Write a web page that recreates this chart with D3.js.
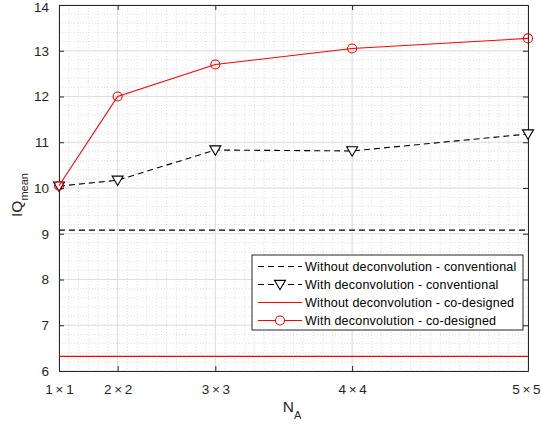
<!DOCTYPE html>
<html>
<head>
<meta charset="utf-8">
<script src="https://cdn.jsdelivr.net/npm/d3@7"></script>
<style>
  body { margin: 0; background: #fff; }
  svg { display: block; font-family: "Liberation Sans", Arial, sans-serif; }
</style>
</head>
<body>
<div id="chart"></div>
<script>
// array sizes, placed on the axis by number of elements (N^2)
var sizes = [1, 2, 3, 4, 5];
var tickLabels = ["1\u2009\u00d7\u20091", "2\u2009\u00d7\u20092", "3\u2009\u00d7\u20093", "4\u2009\u00d7\u20094", "5\u2009\u00d7\u20095"];
var deconvConventional = [10.04, 10.17, 10.83, 10.81, 11.18];
var deconvCodesigned = [10.05, 12.0, 12.7, 13.05, 13.27];
var noDeconvConventional = 9.08;
var noDeconvCodesigned = 6.32;
var yTicks = [6, 7, 8, 9, 10, 11, 12, 13, 14];

var width = 541, height = 427;
var margin = { top: 5, right: 13, bottom: 56, left: 59 };
var w = width - margin.left - margin.right;
var h = height - margin.top - margin.bottom;

var svg = d3.select("#chart").append("svg")
    .attr("width", width)
    .attr("height", height);
var g = svg.append("g")
    .attr("transform", "translate(" + margin.left + "," + margin.top + ")");

var x = d3.scaleLinear().domain([1, 25]).range([0, w]);
var y = d3.scaleLinear().domain([6, 14]).range([h, 0]);

var xMajor = sizes.map(function (n) { return n * n; });

// minor grid (dotted)
var xMinor = d3.range(1, 25.001, 0.5);
var yMinor = d3.range(6, 14.001, 0.2);
g.append("g").selectAll("line").data(xMinor).enter().append("line")
    .attr("x1", function (d) { return x(d); }).attr("x2", function (d) { return x(d); })
    .attr("y1", 0).attr("y2", h)
    .attr("stroke", "#d4d4d4").attr("stroke-width", 0.7).attr("stroke-dasharray", "1,2");
g.append("g").selectAll("line").data(yMinor).enter().append("line")
    .attr("x1", 0).attr("x2", w)
    .attr("y1", function (d) { return y(d); }).attr("y2", function (d) { return y(d); })
    .attr("stroke", "#d4d4d4").attr("stroke-width", 0.7).attr("stroke-dasharray", "1,2");

// major grid
g.append("g").selectAll("line").data(xMajor).enter().append("line")
    .attr("x1", function (d) { return x(d); }).attr("x2", function (d) { return x(d); })
    .attr("y1", 0).attr("y2", h)
    .attr("stroke", "#dedede").attr("stroke-width", 1);
g.append("g").selectAll("line").data(yTicks).enter().append("line")
    .attr("x1", 0).attr("x2", w)
    .attr("y1", function (d) { return y(d); }).attr("y2", function (d) { return y(d); })
    .attr("stroke", "#dedede").attr("stroke-width", 1);

// axes with inward ticks
var axisColor = "#262626";
var xAxis = d3.axisBottom(x).tickValues(xMajor)
    .tickFormat(function (d, i) { return tickLabels[i]; })
    .tickSizeInner(-5).tickSizeOuter(0).tickPadding(13);
var yAxis = d3.axisLeft(y).tickValues(yTicks)
    .tickSizeInner(-5).tickSizeOuter(0).tickPadding(10);

var gx = g.append("g").attr("transform", "translate(0," + h + ")").call(xAxis);
var gy = g.append("g").call(yAxis);
g.append("g").call(d3.axisTop(x).tickValues(xMajor).tickFormat("").tickSizeInner(-5).tickSizeOuter(0));
g.append("g").attr("transform", "translate(" + w + ",0)")
    .call(d3.axisRight(y).tickValues(yTicks).tickFormat("").tickSizeInner(-5).tickSizeOuter(0));

g.selectAll(".domain").attr("stroke", axisColor).attr("stroke-width", 1);
g.selectAll(".tick line").attr("stroke", axisColor);
g.selectAll(".tick text").attr("fill", axisColor).style("font-size", "13.5px")
    .style("font-family", "'Liberation Sans', Arial, sans-serif");
// labels at the picture edges: keep them inside
gy.selectAll(".tick text").filter(function (d) { return d == 14; }).attr("dy", "0.45em");
gx.selectAll(".tick text").filter(function (d) { return d == 25; })
    .attr("text-anchor", "end").attr("dx", 12);

// horizontal reference lines
g.append("line")
    .attr("x1", x(1)).attr("x2", x(25))
    .attr("y1", y(noDeconvConventional)).attr("y2", y(noDeconvConventional))
    .attr("stroke", "#000").attr("stroke-width", 1.1).attr("stroke-dasharray", "6,4");
g.append("line")
    .attr("x1", x(1)).attr("x2", x(25))
    .attr("y1", y(noDeconvCodesigned)).attr("y2", y(noDeconvCodesigned))
    .attr("stroke", "#ff0000").attr("stroke-width", 1.1);

var line = d3.line()
    .x(function (d, i) { return x(xMajor[i]); })
    .y(function (d) { return y(d); });

var triPath = function (cx, cy, s) {
    return "M" + (cx - s) + "," + (cy - s * 0.75) + "L" + (cx + s) + "," + (cy - s * 0.75) +
        "L" + cx + "," + (cy + s * 0.95) + "Z";
};

// with deconvolution - conventional
g.append("path").datum(deconvConventional)
    .attr("d", line).attr("fill", "none")
    .attr("stroke", "#000").attr("stroke-width", 1.1).attr("stroke-dasharray", "6,4");
g.append("g").selectAll("path").data(deconvConventional).enter().append("path")
    .attr("d", function (d, i) { return triPath(x(xMajor[i]), y(d), 5.5); })
    .attr("fill", "#fff").attr("stroke", "#000").attr("stroke-width", 1.1);

// with deconvolution - co-designed
g.append("path").datum(deconvCodesigned)
    .attr("d", line).attr("fill", "none")
    .attr("stroke", "#ff0000").attr("stroke-width", 1.1);
g.append("g").selectAll("circle").data(deconvCodesigned).enter().append("circle")
    .attr("cx", function (d, i) { return x(xMajor[i]); })
    .attr("cy", function (d) { return y(d); })
    .attr("r", 4.5)
    .attr("fill", "none").attr("stroke", "#ff0000").attr("stroke-width", 1.1);

// legend
var legend = svg.append("g").attr("transform", "translate(252,255)");
legend.append("rect").attr("width", 271).attr("height", 75)
    .attr("fill", "#fff").attr("stroke", axisColor).attr("stroke-width", 1);
var items = [
    { label: "Without deconvolution - conventional", color: "#000", dash: "6,4", marker: null },
    { label: "With deconvolution - conventional", color: "#000", dash: "6,4", marker: "tri" },
    { label: "Without deconvolution - co-designed", color: "#ff0000", dash: null, marker: null },
    { label: "With deconvolution - co-designed", color: "#ff0000", dash: null, marker: "circle" }
];
items.forEach(function (it, i) {
    var cy = 11.5 + i * 18;
    legend.append("line").attr("x1", 6).attr("x2", 50).attr("y1", cy).attr("y2", cy)
        .attr("stroke", it.color).attr("stroke-width", 1.1)
        .attr("stroke-dasharray", it.dash);
    if (it.marker == "tri") {
        legend.append("path").attr("d", triPath(28, cy, 5.5))
            .attr("fill", "#fff").attr("stroke", "#000").attr("stroke-width", 1.1);
    } else if (it.marker == "circle") {
        legend.append("circle").attr("cx", 28).attr("cy", cy).attr("r", 4.5)
            .attr("fill", "#fff").attr("stroke", "#ff0000").attr("stroke-width", 1.1);
    }
    legend.append("text").attr("x", 53).attr("y", cy).attr("dy", "0.35em")
        .attr("fill", "#000").style("font-size", "12.5px").style("letter-spacing", "0.2px")
        .text(it.label);
});

// axis labels
var yl = svg.append("text")
    .attr("transform", "translate(22,195) rotate(-90)")
    .attr("text-anchor", "middle").attr("fill", axisColor).style("font-size", "15.5px");
yl.append("tspan").text("IQ");
yl.append("tspan").attr("dy", 6).style("font-size", "11px").text("mean");

var xl = svg.append("text")
    .attr("x", 292).attr("y", 412)
    .attr("text-anchor", "middle").attr("fill", axisColor).style("font-size", "15.5px");
xl.append("tspan").text("N");
xl.append("tspan").attr("dy", 7).style("font-size", "11px").text("A");
</script>
</body>
</html>
